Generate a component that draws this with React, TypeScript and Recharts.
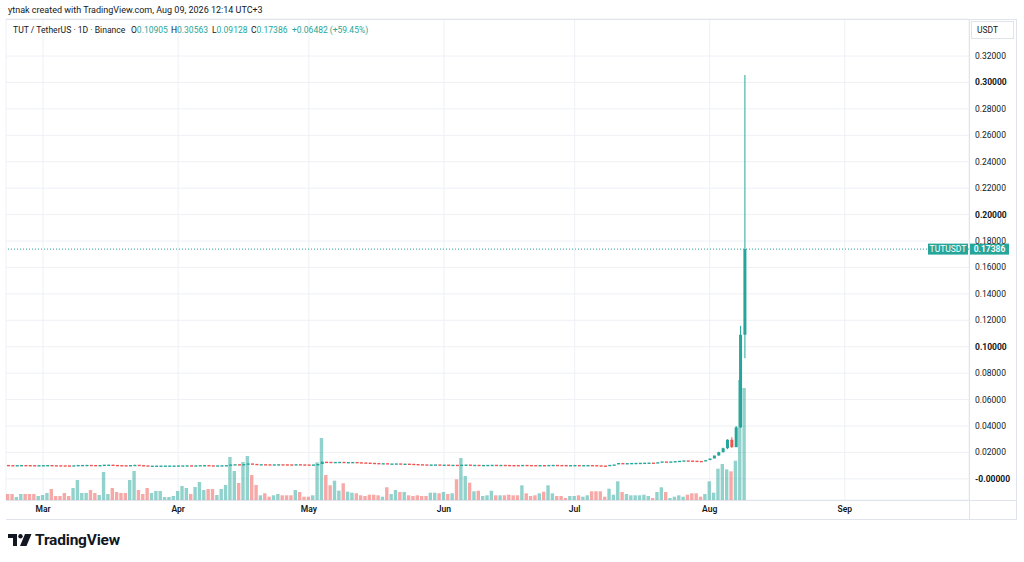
import React from "react";
import { ComposedChart, Bar, Cell, XAxis, YAxis, CartesianGrid, ReferenceLine } from "recharts";

// ---- data (TUT/USDT daily, Binance) ----
const START = { y: 2026, m: 1, d: 21 }; // Feb 21 2026 (month is 0-based)
const FUTURE_DAYS = 51; // empty space right of the last candle

const firstOpen = 0.01055;

const closes = [
  0.01045, 0.01038, 0.01042, 0.0105, 0.01046, 0.01041, 0.01036, 0.01039, 0.01043, 0.01049,
  0.01035, 0.01031, 0.01027, 0.01022, 0.01018, 0.0103, 0.01052, 0.01056, 0.0106, 0.0105,
  0.01045, 0.01048, 0.01075, 0.01078, 0.01055, 0.01045, 0.01035, 0.01025, 0.01045, 0.01065,
  0.0104, 0.01025, 0.01, 0.01003, 0.01006, 0.01009, 0.0101, 0.01012, 0.01014, 0.0102,
  0.01025, 0.01028, 0.01015, 0.01025, 0.0104, 0.01045, 0.0103, 0.0102, 0.01024, 0.01032,
  0.0104, 0.0109, 0.0111, 0.01085, 0.0112, 0.0117, 0.01135, 0.0111, 0.01112, 0.01105,
  0.011, 0.01103, 0.01108, 0.01104, 0.011, 0.01096, 0.0111, 0.01098, 0.01092, 0.01088,
  0.01092, 0.01125, 0.013, 0.0129, 0.01275, 0.01285, 0.0129, 0.0127, 0.01275, 0.0128,
  0.0126, 0.01245, 0.0123, 0.01215, 0.012, 0.01185, 0.01188, 0.0116, 0.01165, 0.01172,
  0.0115, 0.01155, 0.0114, 0.01125, 0.0111, 0.01098, 0.01086, 0.0109, 0.01094, 0.01075,
  0.0108, 0.01065, 0.01068, 0.01035, 0.01075, 0.01085, 0.0106, 0.01065, 0.01055, 0.01057,
  0.0106, 0.01066, 0.01058, 0.01062, 0.01056, 0.0105, 0.01046, 0.01042, 0.0106, 0.01052,
  0.01047, 0.01043, 0.01048, 0.0104, 0.01055, 0.0106, 0.01054, 0.01048, 0.01044, 0.01047,
  0.0105, 0.01044, 0.01046, 0.0105, 0.0104, 0.01025, 0.0101, 0.01002, 0.0106, 0.0109,
  0.012, 0.01185, 0.01195, 0.01205, 0.01212, 0.0122, 0.01228, 0.01234, 0.01225, 0.0126,
  0.0132, 0.013, 0.0132, 0.01345, 0.0137, 0.014, 0.0139, 0.01375, 0.0136, 0.0135,
  0.0142, 0.0154, 0.0177, 0.0202, 0.0232, 0.0296, 0.024, 0.039, 0.10905, 0.17386,
];

// volume, millions of TUT
const volumes = [
  6, 6, 3, 6, 6, 6, 6, 4, 5, 7,
  11, 4, 4, 7, 4, 12, 20, 7, 7, 10,
  7, 5, 28, 6, 12, 8, 7, 7, 20, 29,
  10, 6, 12, 7, 9, 9, 3, 3, 4, 9,
  14, 12, 6, 13, 18, 10, 11, 11, 5, 11,
  15, 43, 29, 17, 38, 44, 25, 15, 4.7, 6.7,
  3.3, 4.7, 6, 4.7, 4.7, 4.7, 10, 8, 3.3, 3.3,
  4.7, 37.7, 62, 25, 14.7, 19.3, 9.3, 16.7, 8.3, 7.3,
  6.7, 4.7, 4, 5.3, 5.3, 4.7, 3.3, 12.7, 6, 10,
  8, 8, 4.7, 4, 4.7, 4, 4, 7.3, 7.3, 6.7,
  8, 6, 6.7, 20.7, 42, 24, 17.3, 8.7, 9.3, 4,
  4.7, 9.3, 4.7, 4.7, 4.7, 5.3, 4.7, 4.7, 14.7, 6.7,
  4, 4.7, 6.7, 8.3, 14.7, 6.7, 4, 4, 2, 4,
  4, 4.7, 3.3, 4.7, 8.7, 8.7, 8.7, 3.3, 11.3, 5.3,
  18.7, 8, 6, 4.7, 4.7, 4.7, 5.3, 4, 2, 8,
  12.7, 8, 2, 3.3, 4.7, 3.3, 5.3, 6.7, 6.7, 3.3,
  6, 18.7, 7.3, 31.3, 36, 30.7, 28.7, 39.3, 120, 112,
];

// wicks are only readable during the August run-up: [low, high]
const wicks: Record<string, [number, number]> = {
  "2026-08-03": [0.0175, 0.0205],
  "2026-08-04": [0.02, 0.0236],
  "2026-08-05": [0.0225, 0.03],
  "2026-08-06": [0.0235, 0.0315],
  "2026-08-07": [0.024, 0.04],
  "2026-08-08": [0.0385, 0.1158],
  "2026-08-09": [0.09128, 0.30563],
};

const changeLabel = "+0.06482 (+59.45%)";

const monthTicks = ["2026-03-01", "2026-04-01", "2026-05-01", "2026-06-01", "2026-07-01", "2026-08-01", "2026-09-01"];
const monthLabels = ["Mar", "Apr", "May", "Jun", "Jul", "Aug", "Sep"];

const priceTicks = [0, 0.02, 0.04, 0.06, 0.08, 0.1, 0.12, 0.14, 0.16, 0.18, 0.2, 0.22, 0.24, 0.26, 0.28, 0.3, 0.32];
const priceTickLabels = [
  "-0.00000", "0.02000", "0.04000", "0.06000", "0.08000", "0.10000", "0.12000", "0.14000", "0.16000",
  "0.18000", "0.20000", "0.22000", "0.24000", "0.26000", "0.28000", "0.30000", "0.32000",
];
const majorPriceTicks = [0, 0.1, 0.2, 0.3];

const UP = "#26a69a";
const DOWN = "#ef5350";
const VOL_UP = "rgba(38,166,154,0.5)";
const VOL_DOWN = "rgba(239,83,80,0.5)";
const TEXT = "#131722";
const LINE = "#e0e3eb";
const FONT = "Roboto, 'Noto Sans', sans-serif";

const dayKey = (n: number) => new Date(Date.UTC(START.y, START.m, START.d + n)).toISOString().slice(0, 10);

const rows = Array.from({ length: closes.length + FUTURE_DAYS }, (_, i) => {
  const date = dayKey(i);
  if (i >= closes.length) return { date };
  const open = i === 0 ? firstOpen : closes[i - 1];
  const close = closes[i];
  const w = wicks[date];
  const low = w ? w[0] : Math.min(open, close);
  const high = w ? w[1] : Math.max(open, close);
  return { date, open, high, low, close, range: [low, high], volume: volumes[i], up: close >= open };
});

const last: any = rows[closes.length - 1];

const Candle = (props: any) => {
  const { x, y, width, height, payload } = props;
  if (!payload || payload.close == null) return null;
  const { open, high, low, close } = payload;
  const yHigh = Math.min(y, y + height);
  const yLow = Math.max(y, y + height);
  const span = high - low;
  const toY = (v: number) => (span > 0 ? yHigh + ((high - v) / span) * (yLow - yHigh) : yHigh);
  const color = close >= open ? UP : DOWN;
  const top = toY(Math.max(open, close));
  const bottom = toY(Math.min(open, close));
  const cx = x + width / 2;
  return (
    <g>
      {yLow - yHigh > bottom - top + 0.5 && (
        <line x1={cx} x2={cx} y1={yHigh} y2={yLow} stroke={color} strokeWidth={1} />
      )}
      <rect x={x} y={top} width={width} height={Math.max(1.4, bottom - top)} fill={color} />
    </g>
  );
};

const PriceTick = (props: any) => {
  const { x, y, payload } = props;
  const idx = priceTicks.indexOf(payload.value);
  const major = majorPriceTicks.includes(payload.value);
  return (
    <text x={x} y={y} dy={3} fontSize={8.5} fontFamily={FONT} fill={TEXT} fontWeight={major ? 700 : 400} textAnchor="start">
      {priceTickLabels[idx]}
    </text>
  );
};

const PriceTag = (props: any) => {
  const { viewBox } = props;
  if (!viewBox) return null;
  const right = viewBox.x + viewBox.width;
  const cy = viewBox.y;
  return (
    <g fontFamily={FONT} fontSize={8.5} fill="#fff">
      <rect x={right - 41} y={cy - 5.5} width={40} height={11} fill={UP} />
      <text x={right - 21} y={cy + 3} textAnchor="middle" fill="#fff">TUTUSDT</text>
      <rect x={right + 1} y={cy - 5.5} width={39} height={11} fill={UP} />
      <text x={right + 20.5} y={cy + 3} textAnchor="middle" fill="#fff" fontWeight={600}>
        {last.close.toFixed(5)}
      </text>
    </g>
  );
};

const hline = (top: number, left: number, width: number) => (
  <div style={{ position: "absolute", top, left, width, height: 1, background: LINE }} />
);
const vline = (left: number, top: number, height: number) => (
  <div style={{ position: "absolute", top, left, width: 1, height, background: LINE }} />
);

export default function App() {
  const ohlc = [
    ["O", last.open],
    ["H", last.high],
    ["L", last.low],
    ["C", last.close],
  ] as [string, number][];
  const legendX = [131, 171, 212, 251];

  return (
    <div style={{ position: "absolute", left: 0, top: 0, width: 1024, height: 562, background: "#fff", overflow: "hidden", fontFamily: FONT, color: TEXT }}>
      <ComposedChart width={1024} height={562} data={rows} margin={{ top: 19, right: 8, bottom: 43, left: 6 }}>
        <CartesianGrid xAxisId="t" yAxisId="price" stroke="#eef0f5" />
        <XAxis
          xAxisId="t"
          dataKey="date"
          ticks={monthTicks}
          interval={0}
          height={19}
          tickSize={0}
          tickMargin={6}
          axisLine={false}
          tick={{ fontSize: 8.5, fill: TEXT, fontFamily: FONT, fontWeight: 600 }}
          tickFormatter={(v) => monthLabels[monthTicks.indexOf(v)]}
        />
        <XAxis xAxisId="c" dataKey="date" hide height={0} />
        <YAxis
          yAxisId="price"
          orientation="right"
          domain={[-0.016, 0.348]}
          ticks={priceTicks}
          interval={0}
          width={47}
          tickSize={0}
          tickMargin={6}
          axisLine={false}
          tick={<PriceTick />}
        />
        <YAxis yAxisId="vol" hide domain={[0, 481]} width={0} />
        <Bar xAxisId="t" yAxisId="vol" dataKey="volume" barSize={3.4} isAnimationActive={false}>
          {rows.map((r: any, i) => (
            <Cell key={i} fill={r.up ? VOL_UP : VOL_DOWN} />
          ))}
        </Bar>
        <Bar xAxisId="c" yAxisId="price" dataKey="range" barSize={3} shape={<Candle />} isAnimationActive={false} />
        <ReferenceLine
          xAxisId="t"
          yAxisId="price"
          y={last.close}
          stroke={UP}
          strokeDasharray="1 2"
          label={<PriceTag />}
        />
      </ComposedChart>

      {/* frame */}
      {hline(19, 6, 1011)}
      {hline(500, 6, 1011)}
      {hline(519, 6, 1011)}
      {vline(969, 19, 500)}
      {vline(1016, 19, 500)}

      {/* currency box */}
      <div style={{ position: "absolute", left: 971, top: 21, width: 43, height: 18, border: `1px solid ${LINE}`, boxSizing: "border-box", fontSize: 8.5, lineHeight: "16px", paddingLeft: 5 }}>
        USDT
      </div>

      {/* header */}
      <div style={{ position: "absolute", left: 8, top: 4, fontSize: 9, lineHeight: "12px", whiteSpace: "nowrap" }}>
        ytnak created with TradingView.com, Aug 09, 2026 12:14 UTC+3
      </div>
      <div style={{ position: "absolute", left: 13, top: 24, fontSize: 8.6, lineHeight: "12px", whiteSpace: "nowrap" }}>
        TUT / TetherUS · 1D · Binance
      </div>
      {ohlc.map(([k, v], i) => (
        <div key={k} style={{ position: "absolute", left: legendX[i], top: 24, fontSize: 8.5, lineHeight: "12px", whiteSpace: "nowrap" }}>
          {k}
          <span style={{ color: UP }}>{v.toFixed(5)}</span>
        </div>
      ))}
      <div style={{ position: "absolute", left: 292, top: 24, fontSize: 8.5, lineHeight: "12px", whiteSpace: "nowrap", color: UP }}>
        {changeLabel}
      </div>

      {/* footer logo */}
      <svg style={{ position: "absolute", left: 8, top: 534 }} width={24} height={13} viewBox="0 0 24 13">
        <path d="M0 0 H9 V12 H5 V4 H0 Z" fill={TEXT} />
        <circle cx={12.5} cy={2.2} r={2.2} fill={TEXT} />
        <path d="M17 0 H23.5 L18.5 12 H12 Z" fill={TEXT} />
      </svg>
      <div style={{ position: "absolute", left: 35, top: 531, fontSize: 15.5, lineHeight: "18px", fontWeight: 700, letterSpacing: -0.2 }}>
        TradingView
      </div>
    </div>
  );
}
